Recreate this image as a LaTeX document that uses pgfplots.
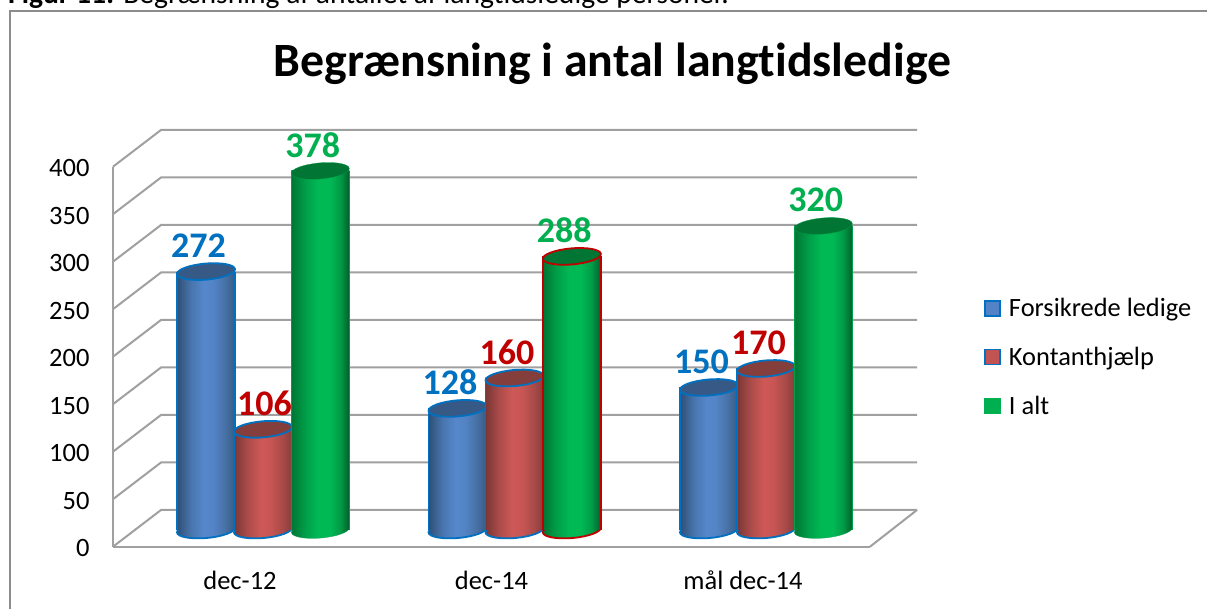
\documentclass[border=0pt]{standalone}
\usepackage{pgfplots}
\usepackage{pgfplotstable}
\pgfplotsset{compat=1.18}
\usepackage{fontspec}
\setmainfont{Carlito}[Ligatures=NoCommon]
\definecolor{gridc}{HTML}{A0A0A0}
\definecolor{framec}{HTML}{8C8C8C}
\definecolor{lblue}{HTML}{0070C0}
\definecolor{lred}{HTML}{C00000}
\definecolor{lgreen}{HTML}{00B050}
\definecolor{a1}{HTML}{2F4F75}\definecolor{a2}{HTML}{4875AD}\definecolor{a3}{HTML}{5687CC}\definecolor{a4}{HTML}{5284C6}\definecolor{a5}{HTML}{4872A6}\definecolor{a6}{HTML}{365A85}
\definecolor{b1}{HTML}{7A3735}\definecolor{b2}{HTML}{AC4C4A}\definecolor{b3}{HTML}{CD5857}\definecolor{b4}{HTML}{C85654}\definecolor{b5}{HTML}{AB4B49}\definecolor{b6}{HTML}{843E3C}
\definecolor{c1}{HTML}{007534}\definecolor{c2}{HTML}{009E48}\definecolor{c3}{HTML}{00B955}\definecolor{c4}{HTML}{00B955}\definecolor{c5}{HTML}{009A47}\definecolor{c6}{HTML}{00602B}
\pgfdeclarehorizontalshading{cyla}{100bp}{color(0bp)=(a1);color(25bp)=(a1);color(37bp)=(a2);color(48bp)=(a3);color(56bp)=(a4);color(66bp)=(a5);color(75bp)=(a6);color(100bp)=(a6)}
\pgfdeclarehorizontalshading{cylb}{100bp}{color(0bp)=(b1);color(25bp)=(b1);color(37bp)=(b2);color(48bp)=(b3);color(56bp)=(b4);color(66bp)=(b5);color(75bp)=(b6);color(100bp)=(b6)}
\pgfdeclarehorizontalshading{cylc}{100bp}{color(0bp)=(c1);color(25bp)=(c1);color(37bp)=(c2);color(48bp)=(c3);color(58bp)=(c4);color(67bp)=(c5);color(75bp)=(c6);color(100bp)=(c6)}
\def\cylell{\pgfpathellipse{\pgfpointorigin}{\pgfpoint{29pt}{2.5pt}}{\pgfpoint{-0.7pt}{8pt}}}
\pgfdeclareplotmark{cyltop}{\cylell\pgfusepathqfillstroke}
\pgfdeclareplotmark{cylbota}{\cylell\pgfshadepath{cyla}{0}\cylell\pgfusepathqstroke}
\pgfdeclareplotmark{cylbotb}{\cylell\pgfshadepath{cylb}{0}\cylell\pgfusepathqstroke}
\pgfdeclareplotmark{cylbotc}{\cylell\pgfshadepath{cylc}{0}\cylell\pgfusepathqstroke}
\pgfplotstableread{
x blue red green
0 272 106 378
1 128 160 288
2 150 170 320
}\datatable
\tikzset{
  lineblue/.style={draw=lblue,line width=1.8pt},
  linered/.style={draw=lred,line width=1.8pt},
  linegreen/.style={draw=c2,line width=0.3pt},
}
\pgfplotsset{
  only0/.style={skip coords between index={1}{3}},
  only1/.style={skip coords between index={0}{1},skip coords between index={2}{3}},
  only2/.style={skip coords between index={0}{2}},
}
% #1 column, #2 x offset, #3 shading suffix, #4 line style, #5 top fill, #6 label colour, #7 row filter, #8 label style
\newcommand{\cyl}[8]{%
\addplot[forget plot,only marks,mark=cylbot#3,mark options={#4},#7] table[x expr=\thisrow{x}+#2,y expr=0] {\datatable};
\addplot[forget plot,ybar,bar width=58pt,bar shift=0pt,draw=none,shading=cyl#3,#7] table[x expr=\thisrow{x}+#2,y=#1] {\datatable};
\addplot[forget plot,ycomb,no marks,#4,#7] table[x expr=\thisrow{x}+#2-0.1153,y=#1] {\datatable};
\addplot[forget plot,ycomb,no marks,#4,#7] table[x expr=\thisrow{x}+#2+0.1153,y=#1] {\datatable};
\addplot[forget plot,only marks,mark=cyltop,mark options={#4,fill=#5},#7,
  nodes near coords,#8,
  every node near coord/.append style={anchor=center,font=\fontsize{36}{40}\selectfont\bfseries,text=#6,xshift=-7.5pt,yshift=26pt}]
  table[x expr=\thisrow{x}+#2,y=#1] {\datatable};
}
\newcommand{\cylgroup}[1]{%
\cyl{blue}{-0.2266}{a}{lineblue}{a6}{lblue}{only#1}{}
\cyl{red}{0}{b}{lineblue}{b6}{lred}{only#1}{coordinate style/.condition={x<0.5}{xshift=9pt}}
}
\begin{document}
\begin{tikzpicture}
\path[use as bounding box] (0pt,0pt) rectangle (1207pt,609pt);
\clip (0pt,0pt) rectangle (1207pt,609pt);
\fill[white] (0pt,0pt) rectangle (1207pt,609pt);
% caption clipped by the top edge
\node[anchor=base west,inner sep=0pt,font=\fontsize{29.6}{33}\selectfont] at (8pt,605.5pt) {\textbf{Figur 11:} Begrænsning af antallet af langtidsledige personer.};
% frame
\draw[framec,line width=2pt] (9.5pt,0pt) -- (9.5pt,598pt) -- (1207pt,598pt);
% title
\node[font=\fontsize{47.8}{52}\selectfont\bfseries,inner sep=0pt] at (612.5pt,545pt) {Begrænsning i antal langtidsledige};
% back wall grid and side wall
\foreach \v in {0,...,8}{
  \draw[gridc,line width=2pt] (113pt,{62.3pt+47.5pt*\v}) -- (161pt,{99pt+47.5pt*\v}) -- (917pt,{99pt+47.5pt*\v});
}
\draw[gridc,line width=2pt] (870pt,62.3pt) -- (917pt,99pt);
% front plane: axes and tick labels
\begin{axis}[
  at={(113pt,62.3pt)},anchor=south west,
  scale only axis,width=757pt,height=380pt,
  xmin=-0.505,xmax=2.505,ymin=0,ymax=400,
  axis x line=bottom,axis y line=left,
  axis line style={gridc,line width=2pt,-},
  xtick={0,1,2},xticklabels={dec-12,dec-14,mål dec-14},
  ytick={0,50,...,400},
  major tick length=0pt,
  /pgf/number format/assume math mode=true,
  tick label style={font=\fontsize{26.5}{30}\selectfont},
  xticklabel style={yshift=-20.5pt},
  yticklabel style={anchor=east,xshift=-20pt,yshift=-1.5pt},
]
\end{axis}
% bar plane
\begin{axis}[
  at={(137.25pt,79pt)},anchor=south west,
  scale only axis,width=754.5pt,height=380pt,
  xmin=-0.5,xmax=2.5,ymin=0,ymax=400,
  hide axis,clip=false,clip marker paths=true,
  /pgf/number format/assume math mode=true,
  legend cell align=left,
  legend image code/.code={\draw[#1,line width=1.8pt] (0pt,-7.5pt) rectangle (15pt,7.5pt);},
  legend style={at={(axis description cs:1.1225,0.455)},anchor=west,draw=none,fill=none,inner sep=0pt,outer sep=0pt,
    font=\fontsize{26.4}{30}\selectfont,row sep=25pt,
    /tikz/every odd column/.append style={column sep=6pt}},
]
\addlegendimage{draw=lblue,fill=a3!80!a2}
\addlegendentry{Forsikrede ledige}
\addlegendimage{draw=lblue,fill=b3!85!b1}
\addlegendentry{Kontanthjælp}
\addlegendimage{draw=lgreen,fill=lgreen}
\addlegendentry{I alt}
\cylgroup{0}
\cyl{green}{0.228}{c}{linegreen}{c1}{lgreen}{only0}{}
\cylgroup{1}
\cyl{green}{0.228}{c}{linered}{c1}{lgreen}{only1}{}
\cylgroup{2}
\cyl{green}{0.228}{c}{linegreen}{c1}{lgreen}{only2}{}
\end{axis}
\end{tikzpicture}
\end{document}
